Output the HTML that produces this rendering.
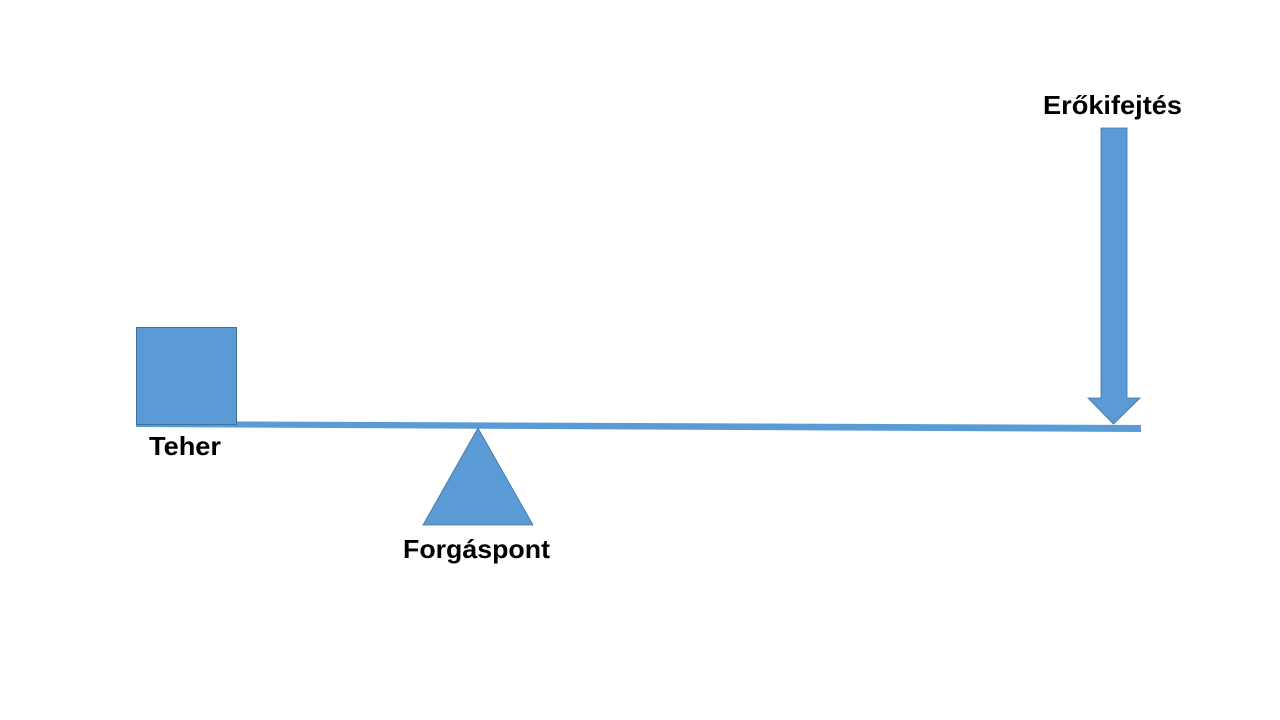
<!DOCTYPE html>
<html><head><style>body{margin:0;background:#fff}</style></head><body>
<svg width="1280" height="720" xmlns="http://www.w3.org/2000/svg" style="display:block">
<polygon points="136,421 1141,425 1141,432 136,427" fill="#5b9bd5"/>
<rect x="136.5" y="327.5" width="100" height="97" fill="#5b9bd5" stroke="#41719c" stroke-width="1"/>
<polygon points="478,428 423,525 533,525" fill="#5b9bd5" stroke="#41719c" stroke-width="0.8"/>
<polygon points="1101,128 1127,128 1127,398 1140,398 1113.5,424 1088,398 1101,398" fill="#5b9bd5" stroke="#41719c" stroke-width="0.8"/>
<g font-family="Liberation Sans, sans-serif" font-weight="bold" font-size="26" fill="#000">
<text x="149" y="455" textLength="72" lengthAdjust="spacingAndGlyphs">Teher</text>
<text x="403" y="558" textLength="147" lengthAdjust="spacingAndGlyphs">Forgáspont</text>
<text x="1043" y="114" textLength="139" lengthAdjust="spacingAndGlyphs">Erőkifejtés</text>
</g>
</svg>
</body></html>
